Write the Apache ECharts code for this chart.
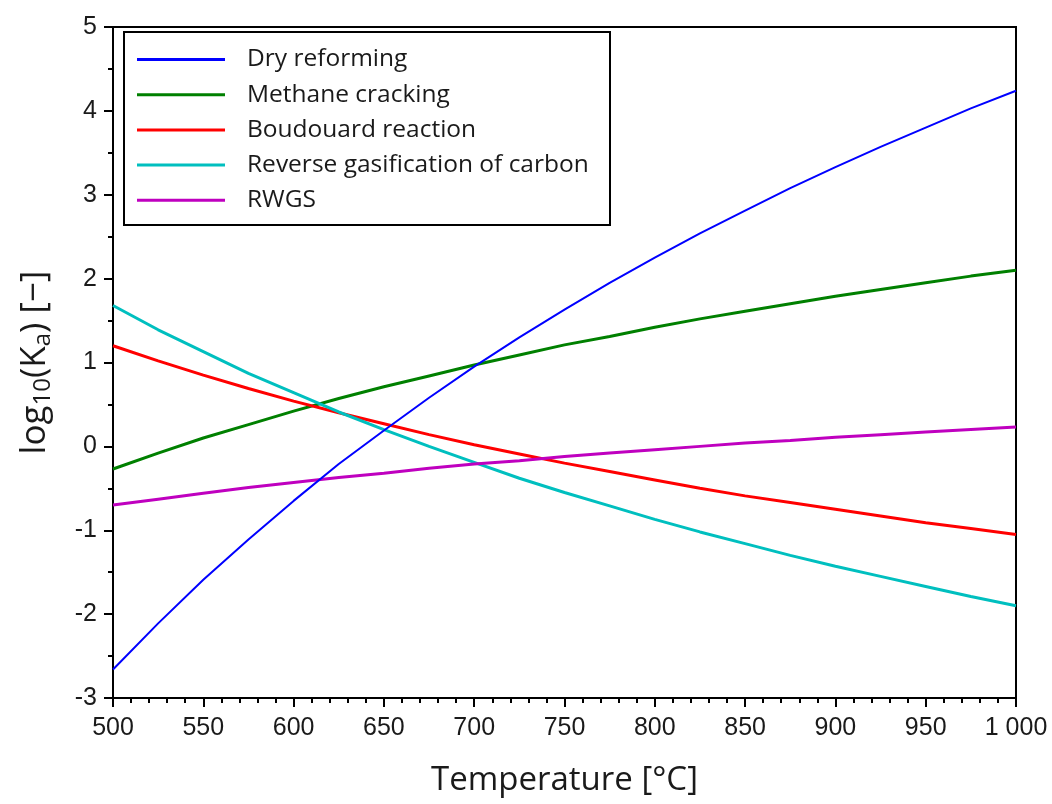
<!DOCTYPE html>
<html>
<head>
<meta charset="utf-8">
<script src="https://cdn.jsdelivr.net/npm/echarts@6/dist/echarts.min.js"></script>
<style>
  html, body { margin: 0; padding: 0; background: #fff; }
  #chart { width: 1052px; height: 804px; }
</style>
</head>
<body>
<div id="chart"></div>
<script>
// Temperature grid (°C)
const temperatures = [500, 525, 550, 575, 600, 625, 650, 675, 700, 725, 750,
                      775, 800, 825, 850, 875, 900, 925, 950, 975, 1000];

// log10 of the equilibrium constant for each reaction
const dryReforming = [-2.66, -2.11, -1.59, -1.11, -0.65, -0.21, 0.19, 0.58, 0.95, 1.30, 1.63,
                      1.95, 2.25, 2.54, 2.81, 3.08, 3.33, 3.57, 3.80, 4.03, 4.24];
const methaneCracking = [-0.27, -0.08, 0.10, 0.26, 0.42, 0.57, 0.71, 0.84, 0.97, 1.09, 1.21,
                         1.31, 1.42, 1.52, 1.61, 1.70, 1.79, 1.87, 1.95, 2.03, 2.10];
const boudouard = [1.20, 1.02, 0.85, 0.69, 0.54, 0.40, 0.27, 0.14, 0.02, -0.09, -0.20,
                   -0.30, -0.40, -0.50, -0.59, -0.67, -0.75, -0.83, -0.91, -0.98, -1.05];
const reverseGasification = [1.68, 1.39, 1.13, 0.87, 0.64, 0.41, 0.20, 0.00, -0.19, -0.38, -0.55,
                             -0.71, -0.87, -1.02, -1.16, -1.30, -1.43, -1.55, -1.67, -1.79, -1.90];
const rwgs = [-0.70, -0.63, -0.56, -0.49, -0.43, -0.37, -0.32, -0.26, -0.21, -0.17, -0.12,
              -0.08, -0.04, 0.00, 0.04, 0.07, 0.11, 0.14, 0.17, 0.20, 0.23];

const seriesNames = ['Dry reforming', 'Methane cracking', 'Boudouard reaction',
                     'Reverse gasification of carbon', 'RWGS'];
const seriesValues = [dryReforming, methaneCracking, boudouard, reverseGasification, rwgs];
const seriesColors = ['#0000ff', '#008000', '#ff0000', '#00bfbf', '#bf00bf'];
const seriesWidths = [2, 3, 3, 3, 3];

const tickFont = 'Liberation Sans, Arial, sans-serif';
const textFont = 'Open Sans, sans-serif';

function groupThousands(v) {
  return String(v).replace(/\B(?=(\d{3})+(?!\d))/g, ' ');
}

const chart = echarts.init(document.getElementById('chart'), null, { renderer: 'canvas' });

const option = {
  backgroundColor: '#ffffff',
  animation: false,
  grid: {
    left: 113, right: 36, top: 27, bottom: 106,
    show: true, borderColor: '#000', borderWidth: 2
  },
  legend: {
    orient: 'vertical',
    left: 137, top: 47,
    padding: 0,
    itemWidth: 88,
    itemHeight: 24,
    itemGap: 10.2,
    icon: 'path://M0,10.5H88V13.5H0Z',
    textStyle: {
      fontFamily: textFont, fontSize: 24.5, color: '#1a1a1a',
      padding: [0, 0, 0, 17]
    },
    data: seriesNames
  },
  graphic: [{
    type: 'rect',
    shape: { x: 124, y: 32, width: 486, height: 193 },
    style: { fill: null, stroke: '#000', lineWidth: 2 },
    z: 10
  }],
  xAxis: {
    type: 'value',
    min: 500, max: 1000, interval: 50,
    name: 'Temperature [°C]',
    nameLocation: 'middle',
    nameGap: 66,
    nameTextStyle: { fontFamily: textFont, fontSize: 33, color: '#1a1a1a' },
    axisLine: { onZero: false, lineStyle: { color: '#000', width: 2 } },
    axisTick: { length: 9, lineStyle: { color: '#000', width: 2 } },
    minorTick: { show: true, splitNumber: 5, length: 5, lineStyle: { color: '#000', width: 2 } },
    splitLine: { show: false },
    axisLabel: {
      fontFamily: tickFont, fontSize: 25, color: '#1a1a1a', margin: 18,
      formatter: v => groupThousands(v)
    }
  },
  yAxis: {
    type: 'value',
    min: -3, max: 5, interval: 1,
    name: '{t|log}{s|10}{t|(K}{s|a}{t|) [−]}',
    nameLocation: 'middle',
    nameGap: 58,
    nameTextStyle: {
      fontFamily: textFont, color: '#1a1a1a',
      rich: {
        t: { fontFamily: textFont, fontSize: 35, color: '#1a1a1a' },
        s: { fontFamily: textFont, fontSize: 24, color: '#1a1a1a', verticalAlign: 'bottom', padding: [15, 0, 0, 0] }
      }
    },
    axisLine: { onZero: false, lineStyle: { color: '#000', width: 2 } },
    axisTick: { length: 9, lineStyle: { color: '#000', width: 2 } },
    minorTick: { show: true, splitNumber: 2, length: 5, lineStyle: { color: '#000', width: 2 } },
    splitLine: { show: false },
    axisLabel: { fontFamily: tickFont, fontSize: 25, color: '#1a1a1a', margin: 16 }
  },
  series: seriesNames.map((name, i) => ({
    name: name,
    type: 'line',
    data: temperatures.map((t, k) => [t, seriesValues[i][k]]),
    showSymbol: false,
    symbol: 'none',
    smooth: false,
    color: seriesColors[i],
    lineStyle: { color: seriesColors[i], width: seriesWidths[i] },
    z: i === 0 ? 5 : 2
  }))
};

chart.setOption(option);
</script>
</body>
</html>
